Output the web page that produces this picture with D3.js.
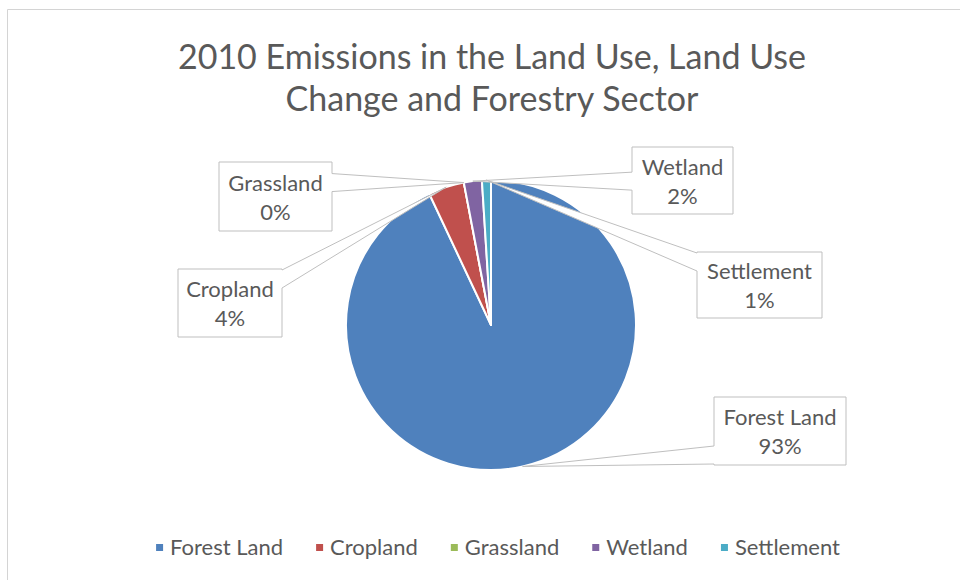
<!DOCTYPE html>
<html>
<head>
<meta charset="utf-8">
<script src="https://cdn.jsdelivr.net/npm/d3@7"></script>
<style>
  html, body { margin: 0; padding: 0; background: #ffffff; }
  svg { display: block; }
  text { font-family: Lato, "Open Sans", sans-serif; fill: #595959; }
</style>
</head>
<body>
<svg id="chart" width="960" height="580"></svg>
<script>
// Emissions share by land-use category (percent of sector total, 2010)
const categories = ["Forest Land", "Cropland", "Grassland", "Wetland", "Settlement"];
const shares = [93, 4, 0, 2, 1];
const sliceColors = ["#4F81BD", "#C0504D", "#9BBB59", "#8064A2", "#4BACC6"];
const titleLines = ["2010 Emissions in the Land Use, Land Use", "Change and Forestry Sector"];

// Callout box placement for each category's data label
const labelBoxes = {
  "Forest Land": { x: 714, y: 397, w: 132, h: 68 },
  "Cropland":    { x: 178, y: 269, w: 104, h: 68 },
  "Grassland":   { x: 219, y: 162, w: 113, h: 69 },
  "Wetland":     { x: 632, y: 147, w: 101, h: 67 },
  "Settlement":  { x: 697, y: 252, w: 125, h: 66 }
};

const W = 960, H = 580;
const cx = 491, cy = 325, R = 145;

const svg = d3.select("#chart");
svg.append("rect").attr("width", W).attr("height", H).attr("fill", "#ffffff");

// chart area frame (top and left edges)
svg.append("path")
  .attr("d", "M7.5,580 V9.5 H960")
  .attr("fill", "none")
  .attr("stroke", "#d4d4d4")
  .attr("stroke-width", 1);

// title
svg.append("g").selectAll("text")
  .data(titleLines)
  .join("text")
  .attr("x", 492)
  .attr("y", (d, i) => 69 + i * 42)
  .attr("text-anchor", "middle")
  .attr("font-size", 34)
  .text(d => d);

const data = categories.map((c, i) => ({ name: c, value: shares[i], color: sliceColors[i] }));

const pie = d3.pie().sort(null).value(d => d.value).startAngle(0).endAngle(2 * Math.PI);
const arcs = pie(data);
const arc = d3.arc().innerRadius(0).outerRadius(R);

const g = svg.append("g").attr("transform", `translate(${cx},${cy})`);
g.selectAll("path.slice")
  .data(arcs)
  .join("path")
  .attr("class", "slice")
  .attr("d", arc)
  .attr("fill", d => d.data.color)
  .attr("stroke", "#ffffff")
  .attr("stroke-width", 2)
  .attr("stroke-linejoin", "round");

// callouts: box outline merged with a wedge pointing to the slice edge
const anchorArc = d3.arc().innerRadius(R).outerRadius(R);
function calloutPath(b, ax, ay) {
  const x0 = b.x, x1 = b.x + b.w, y0 = b.y, y1 = b.y + b.h;
  const c = Math.max(y0 + 10, Math.min(y1 - 10, ay));
  const p = d3.path();
  p.moveTo(x0, y0);
  p.lineTo(x1, y0);
  if (ax > x1) { p.lineTo(x1, c - 9); p.lineTo(ax, ay); p.lineTo(x1, c + 9); }
  p.lineTo(x1, y1);
  p.lineTo(x0, y1);
  if (ax < x0) { p.lineTo(x0, c + 9); p.lineTo(ax, ay); p.lineTo(x0, c - 9); }
  p.closePath();
  return p.toString();
}

const labels = svg.append("g");
arcs.forEach(a => {
  const b = labelBoxes[a.data.name];
  const [dx, dy] = anchorArc.centroid(a);
  const ax = cx + dx, ay = cy + dy;
  labels.append("path")
    .attr("d", calloutPath(b, ax, ay))
    .attr("fill", "#ffffff")
    .attr("stroke", "#bfbfbf")
    .attr("stroke-width", 1);
  const t = labels.append("text")
    .attr("text-anchor", "middle")
    .attr("font-size", 22);
  t.append("tspan").attr("x", b.x + b.w / 2).attr("y", b.y + b.h / 2 - 6).text(a.data.name);
  t.append("tspan").attr("x", b.x + b.w / 2).attr("y", b.y + b.h / 2 + 23)
    .text(d3.format(".0f")(a.data.value) + "%");
});

// legend, centered below the pie
const legend = svg.append("g");
const items = legend.selectAll("g").data(data).join("g");
items.append("rect").attr("width", 7).attr("height", 7).attr("y", -4).attr("fill", d => d.color);
items.append("text").attr("x", 14).attr("y", 7).attr("font-size", 22).text(d => d.name);
let xPos = 0;
items.each(function () {
  const w = d3.select(this).select("text").node().getComputedTextLength() + 14;
  d3.select(this).attr("transform", `translate(${xPos},0)`);
  xPos += w + 33;
});
const total = xPos - 33;
legend.attr("transform", `translate(${498 - total / 2},548)`);
</script>
</body>
</html>
